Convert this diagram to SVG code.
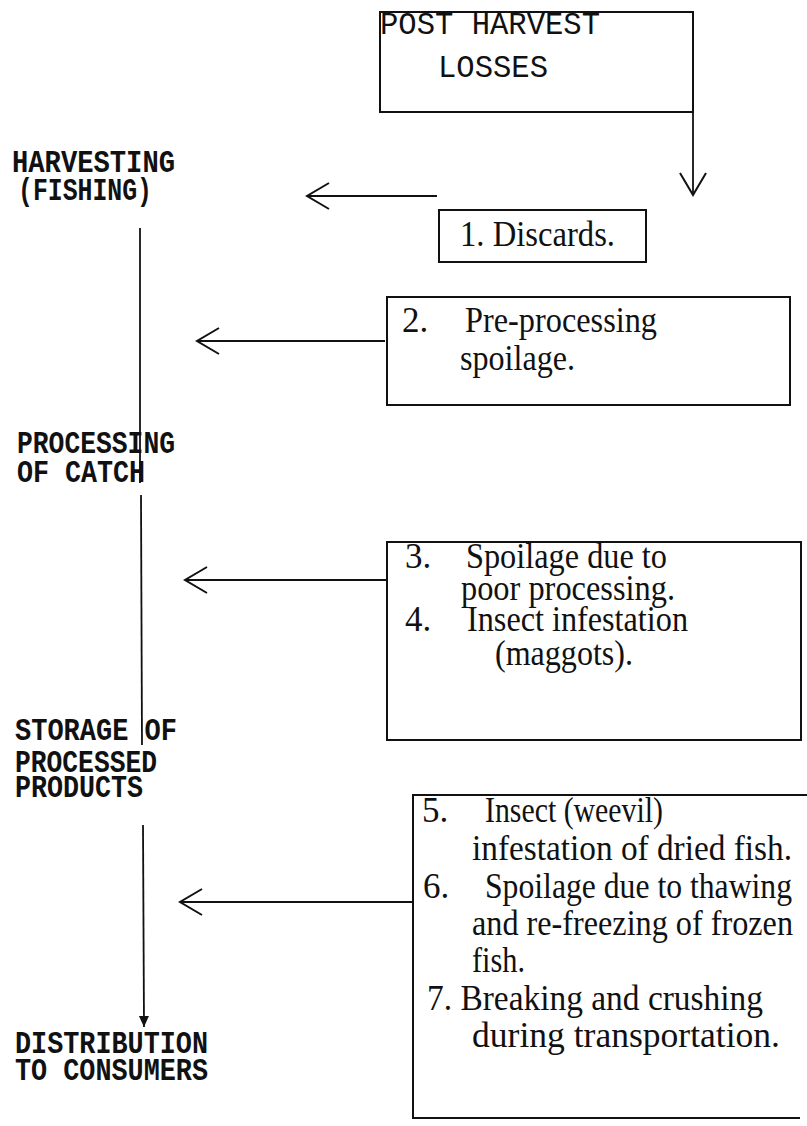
<svg xmlns="http://www.w3.org/2000/svg" width="807" height="1126" viewBox="0 0 807 1126">
<defs>
<style>
.bx{fill:none;stroke:#111;stroke-width:2}
.ln{fill:none;stroke:#111;stroke-width:1.8}
.mono{font-family:"Liberation Mono","Courier New",monospace;fill:#111}
.lbl{font-family:"Liberation Mono","Courier New",monospace;font-weight:bold;font-size:31px;fill:#111}
.tm{font-family:"Liberation Serif","Times New Roman",serif;font-size:35px;fill:#111}
</style>
<marker id="chev" markerUnits="userSpaceOnUse" markerWidth="26" markerHeight="30" refX="23" refY="14" orient="auto" viewBox="0 0 26 30">
<path d="M1,1 L23,14 L1,27" fill="none" stroke="#111" stroke-width="2"/>
</marker>
<marker id="tri" markerUnits="userSpaceOnUse" markerWidth="12" markerHeight="12" refX="11" refY="5" orient="auto" viewBox="0 0 12 10">
<path d="M0,0 L11,5 L0,10 Z" fill="#111"/>
</marker>
</defs>
<rect width="807" height="1126" fill="#fff"/>

<g id="post-harvest-losses">
<rect class="bx" x="380" y="12" width="313" height="100"/>
<text class="mono" x="380" y="34" font-size="32" textLength="220" lengthAdjust="spacingAndGlyphs">POST HARVEST</text>
<text class="mono" x="438" y="77" font-size="32" textLength="110" lengthAdjust="spacingAndGlyphs">LOSSES</text>
</g>

<g id="harvesting">
<text class="lbl" x="12" y="172" textLength="163" lengthAdjust="spacingAndGlyphs">HARVESTING</text>
<text class="lbl" x="18" y="200" textLength="134" lengthAdjust="spacingAndGlyphs">(FISHING)</text>
</g>

<g id="processing">
<text class="lbl" x="17" y="453" textLength="158" lengthAdjust="spacingAndGlyphs">PROCESSING</text>
<text class="lbl" x="17" y="482" textLength="128" lengthAdjust="spacingAndGlyphs">OF CATCH</text>
</g>

<g id="storage">
<text class="lbl" x="15" y="740" textLength="162" lengthAdjust="spacingAndGlyphs">STORAGE OF</text>
<text class="lbl" x="15" y="772" textLength="142" lengthAdjust="spacingAndGlyphs">PROCESSED</text>
<text class="lbl" x="15" y="797" textLength="128" lengthAdjust="spacingAndGlyphs">PRODUCTS</text>
</g>

<g id="distribution">
<text class="lbl" x="15" y="1053" textLength="193" lengthAdjust="spacingAndGlyphs">DISTRIBUTION</text>
<text class="lbl" x="15" y="1080" textLength="193" lengthAdjust="spacingAndGlyphs">TO CONSUMERS</text>
</g>

<g id="loss-1">
<rect class="bx" x="439" y="210" width="207" height="52"/>
<text class="tm" x="460" y="246" textLength="155" lengthAdjust="spacingAndGlyphs">1.  Discards.</text>
</g>

<g id="loss-2">
<rect class="bx" x="387" y="297" width="403" height="108"/>
<text class="tm" x="402" y="332">2.</text>
<text class="tm" x="465" y="332" textLength="192" lengthAdjust="spacingAndGlyphs">Pre-processing</text>
<text class="tm" x="460" y="370" textLength="115" lengthAdjust="spacingAndGlyphs">spoilage.</text>
</g>

<g id="loss-3-4">
<rect class="bx" x="387" y="542" width="414" height="198"/>
<text class="tm" x="405" y="568">3.</text>
<text class="tm" x="466" y="568" textLength="201" lengthAdjust="spacingAndGlyphs">Spoilage due to</text>
<text class="tm" x="461" y="600" textLength="214" lengthAdjust="spacingAndGlyphs">poor processing.</text>
<text class="tm" x="405" y="631">4.</text>
<text class="tm" x="467" y="631" textLength="221" lengthAdjust="spacingAndGlyphs">Insect infestation</text>
<text class="tm" x="495" y="665" textLength="138" lengthAdjust="spacingAndGlyphs">(maggots).</text>
</g>

<g id="loss-5-7">
<path class="bx" d="M807,795 L413,795 L413,1118 L800,1118"/>
<text class="tm" x="422" y="822">5.</text>
<text class="tm" x="485" y="822" textLength="178" lengthAdjust="spacingAndGlyphs">Insect (weevil)</text>
<text class="tm" x="472" y="860" textLength="320" lengthAdjust="spacingAndGlyphs">infestation of dried fish.</text>
<text class="tm" x="423" y="898">6.</text>
<text class="tm" x="485" y="898" textLength="307" lengthAdjust="spacingAndGlyphs">Spoilage due to thawing</text>
<text class="tm" x="472" y="935" textLength="321" lengthAdjust="spacingAndGlyphs">and re-freezing of frozen</text>
<text class="tm" x="472" y="972" textLength="53" lengthAdjust="spacingAndGlyphs">fish.</text>
<text class="tm" x="427" y="1010" textLength="336" lengthAdjust="spacingAndGlyphs">7. Breaking and crushing</text>
<text class="tm" x="472" y="1047" textLength="308" lengthAdjust="spacingAndGlyphs">during transportation.</text>
</g>

<g id="connectors">
<line class="ln" x1="693" y1="112" x2="693" y2="195" marker-end="url(#chev)"/>
<line class="ln" x1="437" y1="196" x2="307" y2="196" marker-end="url(#chev)"/>
<line class="ln" x1="385" y1="341" x2="197" y2="341" marker-end="url(#chev)"/>
<line class="ln" x1="387" y1="580" x2="185" y2="580" marker-end="url(#chev)"/>
<line class="ln" x1="413" y1="902" x2="180" y2="902" marker-end="url(#chev)"/>
<line class="ln" x1="140" y1="228" x2="140" y2="483"/>
<line class="ln" x1="141" y1="495" x2="142" y2="745"/>
<line class="ln" x1="143" y1="825" x2="144" y2="1027" marker-end="url(#tri)"/>
</g>
</svg>
